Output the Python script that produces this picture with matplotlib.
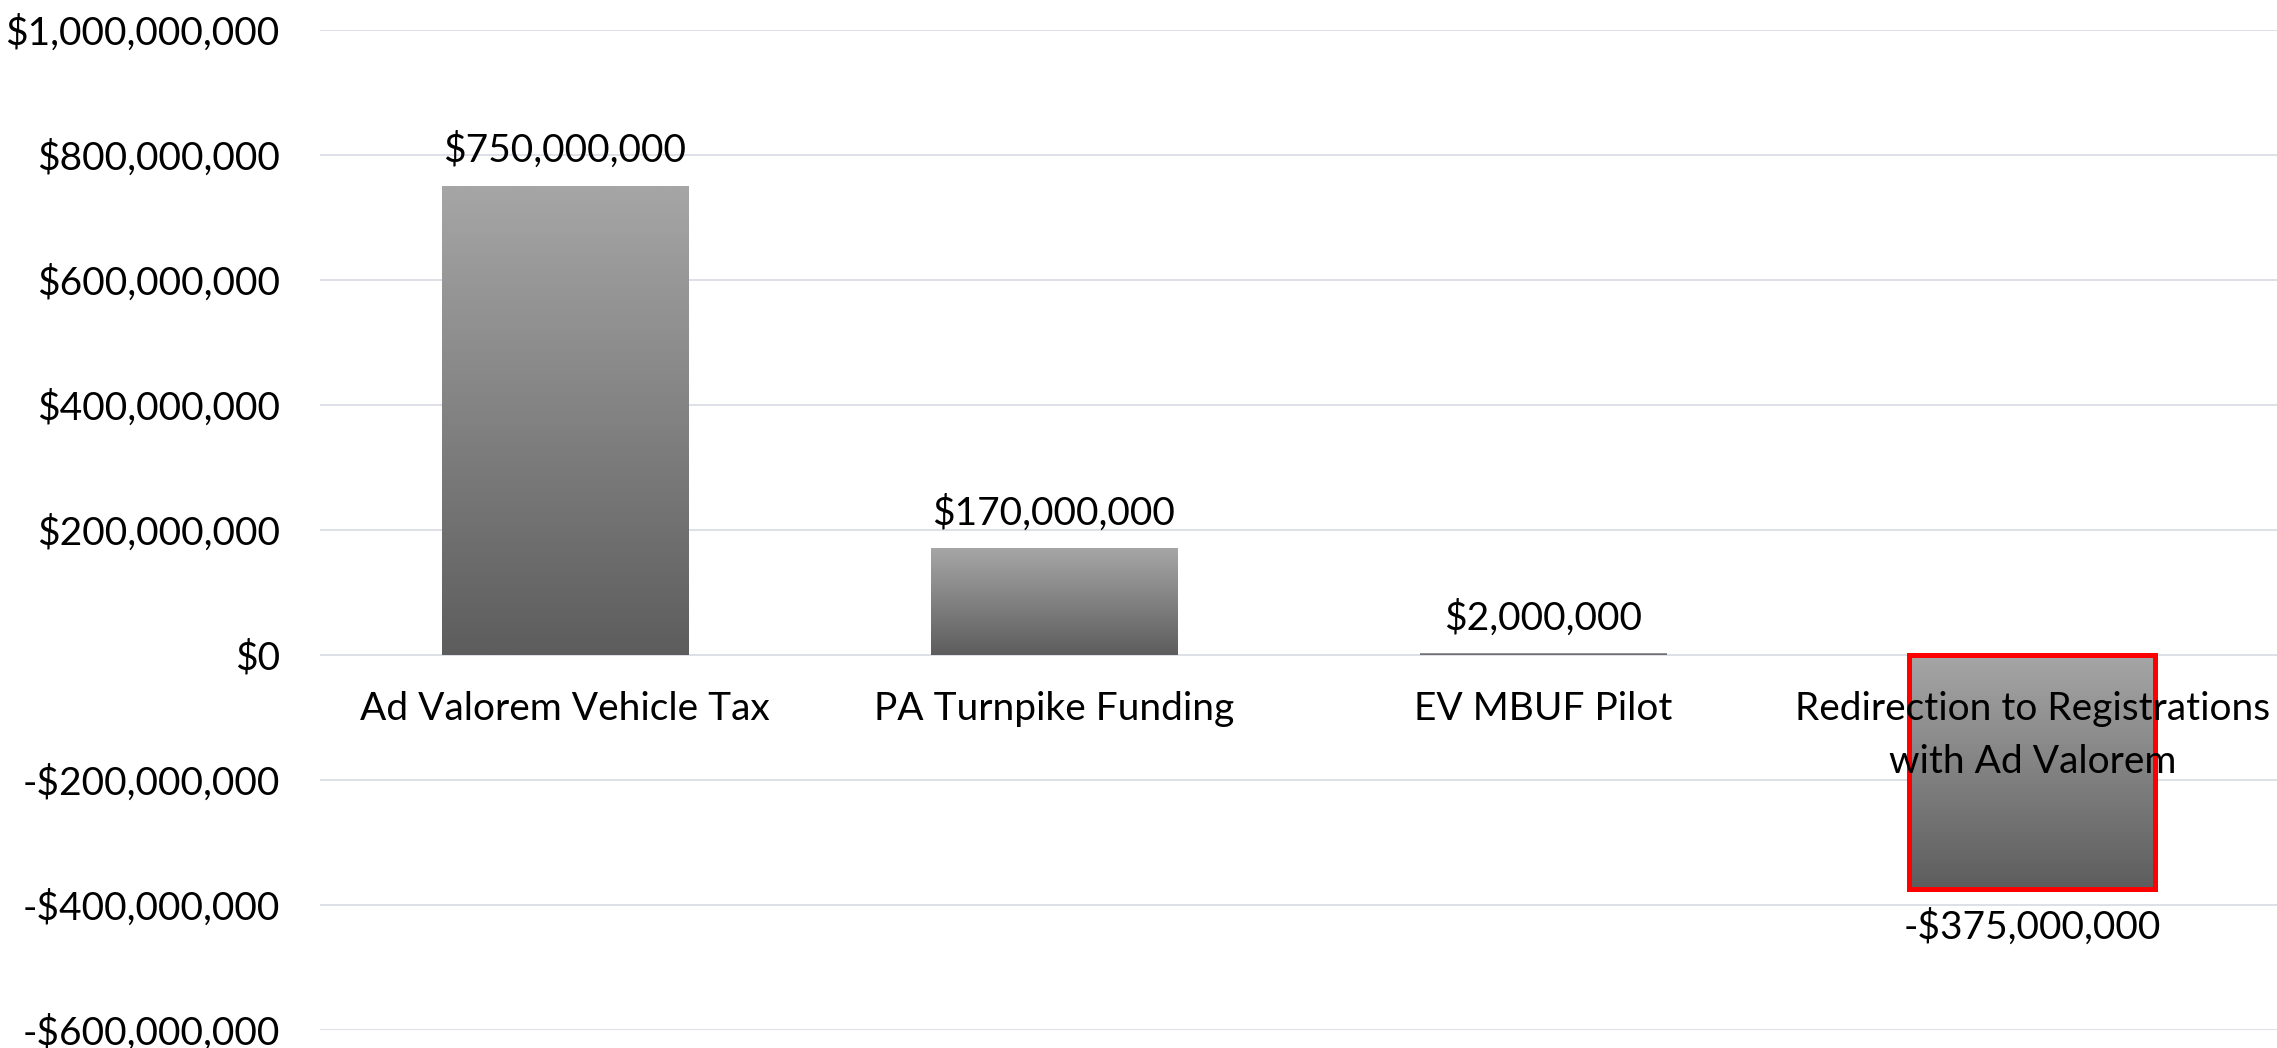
import numpy as np
import matplotlib.pyplot as plt
from matplotlib.colors import LinearSegmentedColormap
from matplotlib.patches import Rectangle
from matplotlib.ticker import FuncFormatter

plt.rcParams['font.family'] = ['Lato', 'DejaVu Sans']

# data
categories = ['Ad Valorem Vehicle Tax', 'PA Turnpike Funding', 'EV MBUF Pilot',
              'Redirection to Registrations\nwith Ad Valorem']
values = [750_000_000, 170_000_000, 2_000_000, -375_000_000]
value_labels = ['$750,000,000', '$170,000,000', '$2,000,000', '-$375,000,000']


def money(v, pos=None):
    if v < 0:
        return '-${:,.0f}'.format(-v)
    return '${:,.0f}'.format(v)


fig = plt.figure(figsize=(22.77, 10.48), dpi=100)
ax = fig.add_axes([320 / 2277, 18 / 1048, 1 - 320 / 2277, 1000 / 1048])

grad = LinearSegmentedColormap.from_list('g', ['#5d5d5d', '#a6a6a6'])
bar_width = 0.503
x = np.arange(len(categories))

bars = ax.bar(x, values, width=bar_width, color='none', zorder=2)
for b in bars:
    x0 = b.get_x()
    y0, y1 = sorted([b.get_y(), b.get_y() + b.get_height()])
    img = np.linspace(0, 1, 256).reshape(-1, 1)
    ax.imshow(img, cmap=grad, origin='lower', aspect='auto',
              extent=[x0, x0 + b.get_width(), y0, y1], zorder=2)

# red outline on the negative bar
b = bars[3]
ax.add_patch(Rectangle((b.get_x(), 0), b.get_width(), b.get_height(),
                       fill=False, edgecolor='#ff0000', linewidth=3.6, zorder=3))

# value labels
for i, v in enumerate(values):
    off = 36 if v >= 0 else -38
    ax.annotate(value_labels[i], xy=(i, v), xytext=(0, off), textcoords='offset pixels',
                ha='center', va='center', fontsize=28, color='black', zorder=5)

# category labels just below zero
for i, c in enumerate(categories):
    ax.annotate(c, xy=(i, 0), xytext=(0, -36), textcoords='offset pixels',
                ha='center', va='top', fontsize=28, color='black',
                linespacing=1.6, zorder=5, annotation_clip=False)

ax.set_xlim(-0.5, 3.5)
ax.set_ylim(-600_000_000, 1_000_000_000)
ax.set_yticks(np.arange(-600_000_000, 1_000_000_001, 200_000_000))
ax.yaxis.set_major_formatter(FuncFormatter(money))
ax.set_xticks([])
ax.tick_params(axis='y', length=0, pad=29, labelsize=28)
ax.grid(axis='y', color='#dadde5', linewidth=1.3, zorder=0)
ax.set_axisbelow(True)
for s in ax.spines.values():
    s.set_visible(False)

fig.savefig('out.png', dpi=100)
